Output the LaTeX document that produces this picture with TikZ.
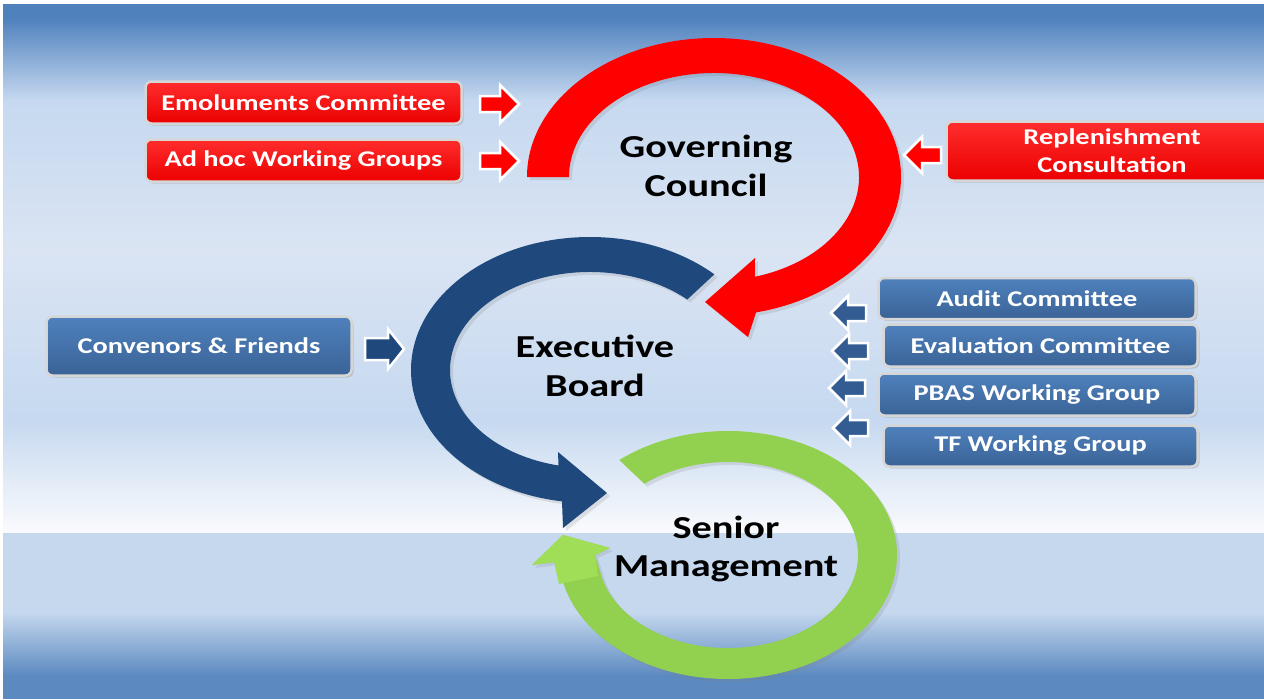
\documentclass[tikz,border=0pt]{standalone}
\usepackage{fontspec}
\newfontfamily\lbl[FakeStretch=1.26]{Carlito}
\usetikzlibrary{shadows,calc}
\definecolor{bgdeep}{RGB}{79,129,189}
\definecolor{bglight}{RGB}{198,217,240}
\definecolor{bgmid}{RGB}{218,228,243}
\definecolor{bgpale}{RGB}{250,251,253}
\definecolor{bglow}{RGB}{197,216,238}
\definecolor{bgbottom}{RGB}{91,137,192}
\definecolor{arcred}{RGB}{255,0,0}
\definecolor{arcblue}{RGB}{31,73,125}
\definecolor{arcgreen}{RGB}{146,208,80}
\definecolor{headgreen}{RGB}{160,222,88}
\definecolor{boxtop}{RGB}{79,129,189}
\definecolor{boxbot}{RGB}{58,99,150}
\definecolor{rtop}{RGB}{255,45,45}
\definecolor{rbot}{RGB}{236,0,0}
\definecolor{rim}{RGB}{214,214,214}
\definecolor{smallblue}{RGB}{50,92,146}
\newcommand{\blockarrow}[7]{%
  \filldraw[fill=#1, draw=white, line width=2.5pt, line join=miter]
  (#2,{-(#5)+#6}) -- (#3,{-(#5)+#6}) -- (#3,{-(#5)+#7}) -- (#4,{-(#5)})
  -- (#3,{-(#5)-#7}) -- (#3,{-(#5)-#6}) -- (#2,{-(#5)-#6}) -- cycle;}
\begin{document}
\begin{tikzpicture}[x=1pt,y=1pt,
  box/.style={rounded corners=6pt, draw=rim, line width=2.5pt, text=white,
    font=\lbl\bfseries\fontsize{22.5}{28}\selectfont, inner sep=0pt, align=center,
    drop shadow={opacity=0.3, shadow xshift=2pt, shadow yshift=-2pt}},
  redbox/.style={box, top color=rtop, bottom color=rbot},
  bluebox/.style={box, top color=boxtop, bottom color=boxbot},
  title/.style={font=\lbl\bfseries\fontsize{32}{38.5}\selectfont, align=center, inner sep=0pt, text=black},
  arcshadow/.style={drop shadow={opacity=0.2, shadow xshift=3pt, shadow yshift=-3pt}}]
\useasboundingbox (0,0) rectangle (1264,-699);
\clip (0,0) rectangle (1264,-699);
% background
\fill[white] (0,0) rectangle (1264,-699);
\fill[bgdeep] (3,-4) rectangle (1264,-18.5);
\shade[top color=bgdeep, bottom color=bglight] (3,-18) rectangle (1264,-100.5);
\shade[top color=bglight, bottom color=bgmid] (3,-100) rectangle (1264,-250.5);
\shade[top color=bgmid, bottom color=bglight] (3,-250) rectangle (1264,-420.5);
\shade[top color=bglight, bottom color=bgpale] (3,-420) rectangle (1264,-533);
\fill[bglow] (3,-533) rectangle (1264,-612.5);
\shade[top color=bglow, bottom color=bgbottom] (3,-612) rectangle (1264,-676.5);
\fill[bgbottom] (3,-676) rectangle (1264,-699);

% green arc (Senior Management)
\coordinate (gc) at (728,-555);
\fill[arcgreen, arcshadow] ($(gc)+(130:169 and 124)$) arc[start angle=130, end angle=-167, x radius=169, y radius=124]
  -- (554,-562) -- (532,-565) -- (563,-535) -- (610,-548) -- (595,-555)
  -- ($(gc)+(-166:130 and 93)$) arc[start angle=-166, end angle=130, x radius=130, y radius=93] -- cycle;
\fill[headgreen] (559,-584) -- (554,-562) -- (532,-565) -- (563,-535) -- (610,-548) -- (595,-555) -- (598,-576) -- cycle;

% blue arc (Executive Board)
\coordinate (bc) at (590,-370);
\fill[arcblue, arcshadow] ($(bc)+(46:179 and 133)$) arc[start angle=46, end angle=261, x radius=179, y radius=133]
  -- (563,-528) -- (607,-493) -- (558,-452)
  -- ($(bc)+(257:140 and 98)$) arc[start angle=257, end angle=46, x radius=140, y radius=98] -- cycle;

% red arc (Governing Council)
\coordinate (rc) at (714,-177);
\fill[arcred, arcshadow] ($(rc)+(180:187 and 139)$) arc[start angle=180, end angle=-77, x radius=187, y radius=139]
  -- (748,-337) -- (705,-302) -- (755,-258)
  -- ($(rc)+(-73.6:145 and 104)$) arc[start angle=-73.6, end angle=180, x radius=145, y radius=104] -- cycle;

% titles
\node[title] (gov) at (706,-166) {Governing\\Council};
\node[title] (exe) at (595,-366) {Executive\\Board};
\node[title] (sen) at (726,-549) {Senior\\Management};

% red boxes
\node[redbox, minimum width=316pt, minimum height=42pt] (emol) at (303.5,-102.5) {Emoluments Committee};
\node[redbox, minimum width=316pt, minimum height=42pt] (adhoc) at (303.5,-160.5) {Ad hoc Working Groups};
\node[redbox, minimum width=337pt, minimum height=59pt] (repl) at (1115,-151) {\hspace*{-6pt}Replenishment\\\hspace*{-6pt}Consultation};

% blue boxes
\node[bluebox, minimum width=305pt, minimum height=59pt] (conv) at (199,-346) {Convenors \& Friends};
\node[bluebox, minimum width=317pt, minimum height=41pt] (audit) at (1037,-298.5) {Audit Committee};
\node[bluebox, minimum width=314pt, minimum height=42pt] (eval) at (1040.5,-345.5) {Evaluation Committee};
\node[bluebox, minimum width=317pt, minimum height=42pt] (pbas) at (1037,-394.5) {PBAS Working Group};
\node[bluebox, minimum width=314pt, minimum height=41pt] (tf) at (1040.5,-446) {TF Working Group};

% small block arrows
\blockarrow{arcred}{480}{500}{519}{104}{8}{19}
\blockarrow{arcred}{480}{500}{519}{161}{8}{19}
\blockarrow{arcred}{941}{922}{904}{155}{8}{18}
\blockarrow{arcblue}{365}{388}{404}{349}{11}{20}
\blockarrow{smallblue}{866}{848}{831}{313}{8}{17}
\blockarrow{smallblue}{868}{849}{832}{351}{8}{17}
\blockarrow{smallblue}{865}{846}{829}{388}{8}{17}
\blockarrow{smallblue}{868}{850}{833}{428}{8}{17}
\end{tikzpicture}
\end{document}
